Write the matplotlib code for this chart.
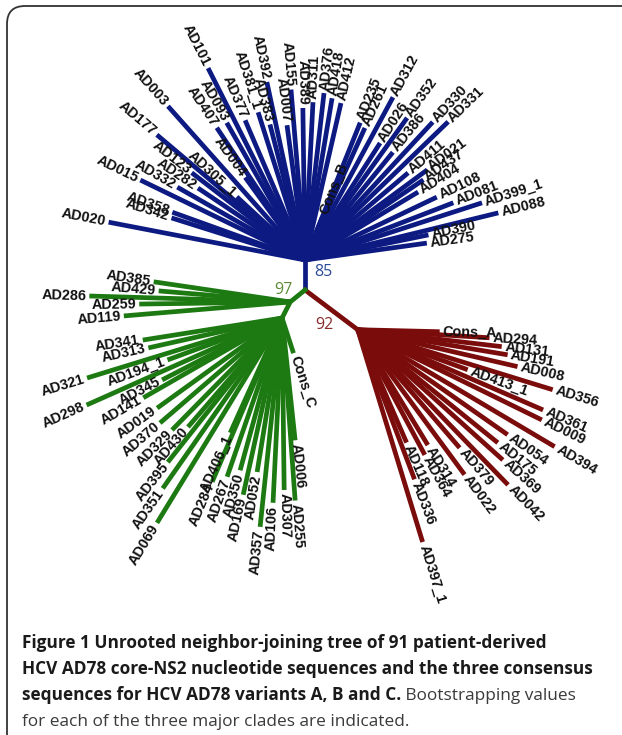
import numpy as np
import matplotlib
matplotlib.use("Agg")
import matplotlib.pyplot as plt
from matplotlib.patches import FancyBboxPatch

# ---- tree data: every leaf is (name, angle in degrees, branch length) ----
# clade B (blue), measured from the clade B node
b_names = ["AD020", "AD342", "AD358", "AD015", "AD332", "AD282", "AD123", "AD177",
           "AD305_1", "AD003", "AD004", "AD407", "AD093", "AD101", "AD377", "AD381_1",
           "AD383", "AD392", "AD007", "AD155", "AD389", "AD311", "AD376", "AD418",
           "AD412", "AD235", "AD261", "AD312", "AD026", "AD352", "AD386", "AD330",
           "AD331", "Cons_B", "AD411", "AD021", "AD437", "AD404", "AD108", "AD081",
           "AD399_1", "AD088", "AD390", "AD275"]
b_angles = [169.1, 162.5, 160.2, 154.1, 150.3, 146.1, 142.4, 139.8,
            137.2, 131.7, 125.9, 123.7, 119.7, 116.8, 113.2, 107.6,
            104.5, 102.1, 97.6, 94.7, 90.8, 87.1, 83.5, 80.5,
            77.1, 68.1, 65.6, 61.6, 57.3, 54.3, 50.8, 47.2,
            44.0, 68.0, 40.2, 36.4, 34.1, 31.0, 25.5, 21.1,
            17.9, 13.7, 11.5, 7.9]
b_lengths = [200, 140, 141, 183, 147, 129, 143, 194,
             93, 206, 102, 159, 158, 215, 152, 155,
             140, 182, 136, 171, 152, 158, 168, 164,
             161, 148, 145, 185, 139, 175, 139, 188,
             199, 47, 135, 152, 143, 132, 146, 159,
             186, 199, 126, 123]

# clade C (green), first small subclade, from the clade C node
g1_names = ["AD385", "AD429", "AD286", "AD259", "AD119"]
g1_angles = [171.6, 175.2, 178.3, 180.8, 184.8]
g1_lengths = [138, 132, 201, 151, 167]

# clade C (green), large subclade
g2_names = ["AD341", "AD313", "AD321", "AD194_1", "AD345", "AD298", "AD141", "AD019",
            "AD370", "AD329", "AD430", "AD395", "AD351", "AD069", "AD406_1", "AD284",
            "AD267", "AD169", "AD350", "AD052", "AD357", "AD106", "AD307", "AD255",
            "AD006"]
g2_angles = [189.0, 192.6, 197.1, 200.1, 207.3, 204.0, 209.9, 215.8,
             220.7, 225.5, 229.2, 231.6, 235.0, 238.6, 245.7, 246.9,
             250.9, 257.6, 254.6, 260.8, 264.0, 267.2, 270.7, 274.1,
             276.1]
g2_lengths = [141, 137, 204, 122, 135, 214, 160, 154,
              161, 157, 144, 184, 208, 240, 126, 178,
              168, 181, 158, 156, 210, 185, 172, 183,
              123]

# clade A (red), from the clade A node
r_names = ["Cons_A", "AD294", "AD131", "AD191", "AD008", "AD413_1", "AD356", "AD361",
           "AD009", "AD394", "AD054", "AD175", "AD369", "AD042", "AD379", "AD022",
           "AD314", "AD364", "AD118", "AD336", "AD397_1"]
r_angles = [-1.4, -3.5, -6.7, -9.5, -13.0, -20.0, -17.1, -23.4,
            -26.1, -30.7, -35.0, -38.9, -41.9, -45.9, -49.2, -53.6,
            -58.7, -61.8, -66.6, -69.2, -73.0]
r_lengths = [82, 132, 145, 152, 164, 117, 204, 202,
             205, 229, 183, 180, 195, 216, 156, 180,
             135, 142, 123, 160, 222]

# internal branches (angle, length) and bootstrap support
stem_b = (90, 30)
stem_a = (-37, 66)
stem_c = (219, 19)
stem_c2 = (243, 18)
cons_c = (288, 37)
boot_b, boot_c, boot_a = 85, 97, 92

BLUE = "#0c1a82"
GREEN = "#1d7a12"
RED = "#7a0c0c"


def polar(origin, ang, length):
    a = np.deg2rad(ang)
    return origin[0] + length * np.cos(a), origin[1] + length * np.sin(a)


def draw_fan(ax, hub, names, angles, lengths, color):
    for name, ang, ln in zip(names, angles, lengths):
        tip = polar(hub, ang, ln)
        ax.plot([hub[0], tip[0]], [hub[1], tip[1]], color=color, lw=3.4,
                solid_capstyle="butt")
        lab = polar(hub, ang, ln + 3)
        if np.cos(np.deg2rad(ang)) >= 0:
            rot, ha = ang, "left"
        else:
            rot, ha = ang - 180, "right"
        ax.text(lab[0], lab[1], name, rotation=rot, ha=ha, va="center",
                rotation_mode="anchor", fontsize=10.4, fontweight="bold",
                family=["Liberation Sans", "DejaVu Sans"], color="#111111")


fig = plt.figure(figsize=(6.22, 7.35), dpi=100)
ax = fig.add_axes([0, 0, 1, 1])
ax.set_xlim(-305, 317)
ax.set_ylim(-445, 290)
ax.set_aspect("equal")
ax.axis("off")

root = (0.0, 0.0)
node_b = polar(root, *stem_b)
node_a = polar(root, *stem_a)
node_c = polar(root, *stem_c)
node_c2 = polar(node_c, *stem_c2)

ax.plot([root[0], node_b[0]], [root[1], node_b[1]], color=BLUE, lw=3.4)
ax.plot([root[0], node_a[0]], [root[1], node_a[1]], color=RED, lw=3.4)
ax.plot([root[0], node_c[0], node_c2[0]], [root[1], node_c[1], node_c2[1]],
        color=GREEN, lw=3.4)

draw_fan(ax, node_b, b_names, b_angles, b_lengths, BLUE)
draw_fan(ax, node_c, g1_names, g1_angles, g1_lengths, GREEN)
draw_fan(ax, node_c2, g2_names, g2_angles, g2_lengths, GREEN)
draw_fan(ax, node_c2, ["Cons_C"], [cons_c[0]], [cons_c[1]], GREEN)
draw_fan(ax, node_a, r_names, r_angles, r_lengths, RED)

bfont = dict(fontsize=11.5, family=["Open Sans", "DejaVu Sans"])
ax.text(node_b[0] + 18, node_b[1] - 12, str(boot_b), color="#2b4a99",
        ha="center", va="center", **bfont)
ax.text(node_c[0] - 7, node_c[1] + 12, str(boot_c), color="#5e8a38",
        ha="center", va="center", **bfont)
ax.text(node_a[0] - 33, node_a[1] + 5, str(boot_a), color="#8a2a2a",
        ha="center", va="center", **bfont)

# rounded frame of the figure panel
frame = FancyBboxPatch((-298, -475), 650, 759,
                       boxstyle="round,pad=0,rounding_size=18",
                       fc="none", ec="#333333", lw=1.3, clip_on=False)
ax.add_patch(frame)

# caption
cap = dict(fontsize=12.4, family=["Open Sans", "DejaVu Sans"], va="baseline",
           transform=fig.transFigure)
x0 = 22 / 622
ys = [1 - 648 / 735, 1 - 674 / 735, 1 - 700 / 735, 1 - 726 / 735]
fig.text(x0, ys[0], "Figure 1 Unrooted neighbor-joining tree of 91 patient-derived",
         fontweight="bold", color="#1a1a1a", **cap)
fig.text(x0, ys[1], "HCV AD78 core-NS2 nucleotide sequences and the three consensus",
         fontweight="bold", color="#1a1a1a", **cap)
t3 = fig.text(x0, ys[2], "sequences for HCV AD78 variants A, B and C.",
              fontweight="bold", color="#1a1a1a", **cap)
ax.annotate(" Bootstrapping values", xy=(1, 0), xycoords=t3,
            va="bottom", ha="left", fontsize=12.4,
            family=["Open Sans", "DejaVu Sans"], color="#3a3a3a")
fig.text(x0, ys[3], "for each of the three major clades are indicated.",
         color="#3a3a3a", **cap)

fig.savefig("out.png", dpi=100)
